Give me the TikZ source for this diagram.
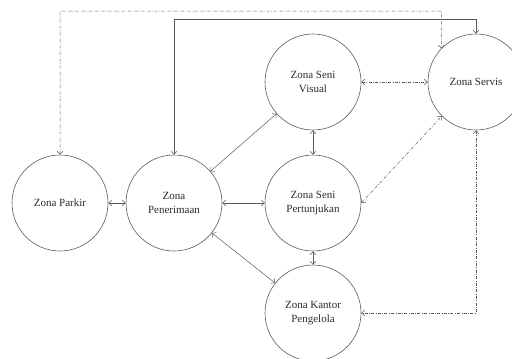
\documentclass[tikz,border=0pt]{standalone}
\usepackage{fontspec}
\setmainfont{Liberation Serif}
\usetikzlibrary{arrows.meta}
\definecolor{linegray}{HTML}{5A5A5A}
\definecolor{textgray}{HTML}{2A2A2A}
\tikzset{
  zone/.style={circle, draw=linegray, line width=0.6pt, minimum size=96pt, inner sep=0pt,
    align=center, text=textgray, font=\fontsize{11}{13.5}\selectfont},
  conn/.style={draw=linegray, line width=0.5pt, {Straight Barb[length=3pt,width=6pt]}-{Straight Barb[length=3pt,width=6pt]}},
  dashdot/.style={dash pattern=on 3pt off 1.5pt on 0.6pt off 1.5pt}
}
\begin{document}
\begin{tikzpicture}[x=1pt,y=-1pt]
\useasboundingbox (0,0) rectangle (512,359);
\node[zone] (parkir) at (60,203) {Zona Parkir};
\node[zone] (terima) at (174,203) {Zona\\Penerimaan};
\node[zone] (tunjuk) at (313,203) {Zona Seni\\Pertunjukan};
\node[zone] (visual) at (313,82) {Zona Seni\\Visual};
\node[zone] (kantor) at (313,313) {Zona Kantor\\Pengelola};
\node[zone] (servis) at (476,82) {Zona Servis};
\coordinate (topA) at (60,11);
\coordinate (topB) at (441.5,11);
\coordinate (topC) at (174,19);
\coordinate (topD) at (476,19);
% solid connectors
\draw[conn] (parkir) -- (terima);
\draw[conn] (terima) -- (tunjuk);
\draw[conn] (terima) -- (visual);
\draw[conn] (terima) -- (kantor);
\draw[conn] (visual) -- (tunjuk);
\draw[conn] (tunjuk) -- (kantor);
\draw[conn] (terima.north) -- (topC) -- (topD) -- (servis.north);
% dash-dot connectors
\draw[conn,dashdot] (visual) -- (servis);
\draw[conn,dashdot] (tunjuk.east) -- (servis.225);
\draw[conn,dashdot] (servis.south) |- (kantor.east);
\draw[conn,dashdot] (parkir.north) -- (topA) -- (topB) -- (servis.136);
\end{tikzpicture}
\end{document}
